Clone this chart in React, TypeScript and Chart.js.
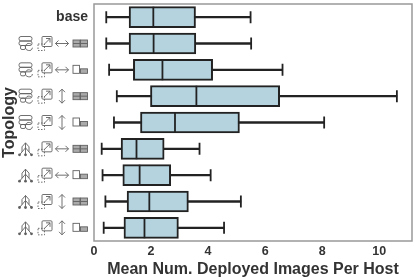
import React, { useEffect, useRef } from "react";
import { Chart, registerables } from "chart.js";

Chart.register(...registerables);

const categories = ["base", "ring-h-pair", "ring-h-mix", "ring-v-pair", "ring-v-mix", "tree-h-pair", "tree-h-mix", "tree-v-pair", "tree-v-mix"];
const low = [0.43, 0.43, 0.53, 0.8, 0.7, 0.27, 0.3, 0.4, 0.34];
const q1 = [1.23, 1.23, 1.38, 1.98, 1.63, 0.95, 1.01, 1.16, 1.05];
const median = [2.08, 2.09, 2.4, 3.59, 2.84, 1.49, 1.6, 1.94, 1.77];
const q3 = [3.56, 3.57, 4.16, 6.51, 5.1, 2.46, 2.69, 3.31, 2.96];
const high = [5.49, 5.51, 6.61, 10.62, 8.07, 3.7, 4.09, 5.15, 4.56];
const xTicks = [0, 2, 4, 6, 8, 10];

const INK = "#222222";
const ICON = "#606060";

function ring(c: CanvasRenderingContext2D, x: number, y: number) {
  c.beginPath();
  c.roundRect(x, y - 7, 13, 4.5, 2);
  c.roundRect(x, y - 2.5, 13, 4.5, 2);
  c.stroke();
  c.beginPath();
  c.arc(x + 10, y + 3.5, 3.5, 0.2, Math.PI * 1.7);
  c.stroke();
  c.beginPath();
  c.roundRect(x + 1.5, y + 2, 5, 4, 1.5);
  c.stroke();
}
function tree(c: CanvasRenderingContext2D, x: number, y: number) {
  const pts = [[1.5, 6], [7.5, 6], [13.5, 6]];
  c.beginPath();
  c.moveTo(x + 7.5, y - 6); c.lineTo(x + 7.5, y + 6);
  c.moveTo(x + 7.5, y - 1); c.lineTo(x + 1.5, y + 6);
  c.moveTo(x + 7.5, y - 1); c.lineTo(x + 13.5, y + 6);
  c.moveTo(x + 4, y - 2); c.lineTo(x + 4, y + 3);
  c.moveTo(x + 11, y - 2); c.lineTo(x + 11, y + 3);
  c.moveTo(x + 4, y - 2); c.lineTo(x + 7.5, y - 6); c.lineTo(x + 11, y - 2);
  c.stroke();
  pts.forEach(([a, b]) => { c.beginPath(); c.arc(x + a, y + b, 1.4, 0, 7); c.fill(); });
}
function scale(c: CanvasRenderingContext2D, x: number, y: number) {
  c.beginPath();
  c.roundRect(x + 4, y - 7, 10, 10, 1);
  c.stroke();
  c.save();
  c.setLineDash([1.5, 1.5]);
  c.strokeRect(x, y + 0.5, 6.5, 6.5);
  c.restore();
  c.beginPath();
  c.moveTo(x + 6, y + 1); c.lineTo(x + 12, y - 5);
  c.moveTo(x + 8, y - 5); c.lineTo(x + 12, y - 5); c.lineTo(x + 12, y - 1);
  c.stroke();
}
function arrow(c: CanvasRenderingContext2D, x: number, y: number, horizontal: boolean) {
  c.beginPath();
  if (horizontal) {
    c.moveTo(x - 6.5, y); c.lineTo(x + 6.5, y);
    c.moveTo(x - 3.5, y - 3); c.lineTo(x - 6.5, y); c.lineTo(x - 3.5, y + 3);
    c.moveTo(x + 3.5, y - 3); c.lineTo(x + 6.5, y); c.lineTo(x + 3.5, y + 3);
  } else {
    c.moveTo(x, y - 7); c.lineTo(x, y + 7);
    c.moveTo(x - 3, y - 4); c.lineTo(x, y - 7); c.lineTo(x + 3, y - 4);
    c.moveTo(x - 3, y + 4); c.lineTo(x, y + 7); c.lineTo(x + 3, y + 4);
  }
  c.stroke();
}
function hosts(c: CanvasRenderingContext2D, x: number, y: number, pair: boolean) {
  if (pair) {
    [0, 7.5].forEach((d) => {
      c.save();
      c.fillStyle = "#aaaaaa";
      c.fillRect(x + d, y - 3.5, 7, 7);
      c.restore();
      c.strokeRect(x + d, y - 3.5, 7, 7);
      c.beginPath(); c.moveTo(x + d, y); c.lineTo(x + d + 7, y); c.stroke();
    });
  } else {
    c.strokeRect(x, y - 4.5, 6.5, 8);
    c.save();
    c.fillStyle = "#aaaaaa";
    c.fillRect(x + 7.5, y - 1, 7, 4.5);
    c.restore();
    c.strokeRect(x + 7.5, y - 1, 7, 4.5);
  }
}

const iconPlugin = {
  id: "topologyIcons",
  afterDraw(chart: any) {
    const c: CanvasRenderingContext2D = chart.ctx;
    const yScale = chart.scales.y;
    c.save();
    c.strokeStyle = ICON;
    c.fillStyle = ICON;
    c.lineWidth = 0.9;
    categories.forEach((name, i) => {
      if (i === 0) return;
      const y = yScale.getPixelForValue(i);
      const parts = name.split("-");
      if (parts[0] === "ring") ring(c, 19, y); else tree(c, 18, y);
      scale(c, 38, y);
      arrow(c, 62, y, parts[1] === "h");
      hosts(c, 73, y, parts[2] === "pair");
    });
    c.restore();
  },
};

export default function App() {
  const ref = useRef<HTMLCanvasElement>(null);
  useEffect(() => {
    const cap = {
      type: "line",
      showLine: false,
      pointStyle: "line",
      pointRotation: 90,
      pointRadius: 6,
      pointBorderWidth: 1.8,
      pointBorderColor: INK,
    };
    const chart = new Chart(ref.current!, {
      type: "bar",
      data: {
        labels: categories,
        datasets: [
          { ...cap, data: low, order: 1 },
          { ...cap, data: high, order: 1 },
          { ...cap, data: median, pointRadius: 10.5, order: 0 },
          {
            type: "bar",
            data: q1.map((v, i) => [v, q3[i]]),
            backgroundColor: "#b4d3df",
            borderColor: INK,
            borderWidth: 2,
            borderSkipped: false,
            barThickness: 21,
            grouped: false,
            order: 2,
          },
          {
            type: "bar",
            data: low.map((v, i) => [v, high[i]]),
            backgroundColor: INK,
            borderWidth: 0,
            barThickness: 1.7,
            grouped: false,
            order: 3,
          },
        ] as any,
      },
      options: {
        indexAxis: "y",
        animation: false,
        responsive: false,
        layout: { autoPadding: false, padding: { left: 0, right: 3, top: 4, bottom: 0 } },
        plugins: { legend: { display: false }, tooltip: { enabled: false } },
        scales: {
          x: {
            type: "linear",
            min: 0,
            max: 11.15,
            afterBuildTicks(axis: any) {
              axis.ticks = xTicks.map((value) => ({ value }));
            },
            afterFit(axis: any) {
              axis.height = 36;
              axis.paddingLeft = 0;
              axis.paddingRight = 0;
            },
            grid: { display: false, drawTicks: false },
            border: { display: false },
            ticks: { font: { family: "Liberation Sans", size: 12.5, weight: "bold" }, color: "#333333", padding: 3, maxRotation: 0 },
            title: {
              display: true,
              text: "Mean Num. Deployed Images Per Host",
              font: { family: "Liberation Sans", size: 16, weight: "bold" },
              color: "#333333",
              padding: { top: 0, bottom: -2 },
            },
          },
          y: {
            type: "category",
            grid: { display: false, drawTicks: true, tickLength: 3, tickColor: "#333333", tickWidth: 1.5 },
            border: { display: false },
            afterFit(axis: any) {
              axis.width = 94;
              axis.paddingTop = 0;
              axis.paddingBottom = 0;
            },
            ticks: {
              font: { family: "Liberation Sans", size: 14, weight: "bold" },
              color: "#333333",
              padding: 3,
              autoSkip: false,
              callback(_v: any, i: number) {
                return i === 0 ? categories[0] : "";
              },
            },
            title: {
              display: true,
              text: "Topology",
              font: { family: "Liberation Sans", size: 16, weight: "bold" },
              color: "#333333",
              padding: { top: 0, bottom: 0 },
            },
          },
        },
      },
      plugins: [
        iconPlugin,
        {
          id: "panelBorder",
          beforeDatasetsDraw(chart: any) {
            const { left, right, top, bottom } = chart.chartArea;
            const c = chart.ctx;
            c.save();
            c.strokeStyle = "#999999";
            c.lineWidth = 1.5;
            c.strokeRect(left, top, right - left, bottom - top);
            c.restore();
          },
        },
      ],
    } as any);
    return () => chart.destroy();
  }, []);
  return (
    <canvas
      ref={ref}
      width={415}
      height={277}
      style={{ position: "fixed", left: 0, top: 0, width: 415, height: 277, display: "block" }}
    />
  );
}
